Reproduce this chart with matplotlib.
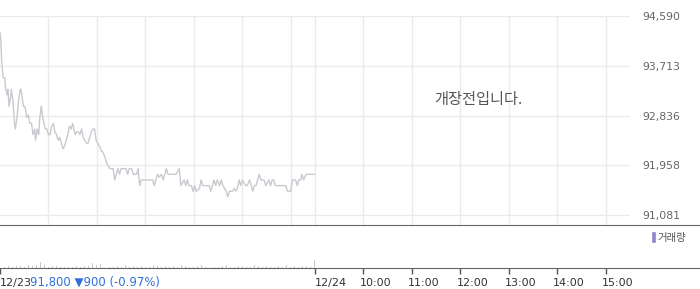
import matplotlib
matplotlib.use("Agg")
import matplotlib.pyplot as plt
from matplotlib.lines import Line2D
from matplotlib.transforms import ScaledTranslation

plt.rcParams.update({"font.family": ["DejaVu Sans", "Noto Sans CJK KR"], "font.size": 8})

# 12/23 session, minutes after 09:00
price_min = [0, 1, 2, 4, 6, 7, 9, 10, 11, 13, 14, 16, 18, 19, 21, 23, 25, 26, 28, 29,
             31, 33, 35, 37, 39, 41, 43, 44, 46, 48, 49, 51, 53, 56, 58, 60, 62, 64, 66, 68,
             70, 72, 74, 76, 78, 80, 82, 84, 86, 88, 90, 93, 95, 97, 99, 101, 103, 105, 107, 109,
             111, 113, 115, 117, 119, 121, 123, 126, 127, 130, 132, 134, 136, 138, 140, 142, 144, 146, 148, 150,
             152, 156, 158, 160, 163, 165, 169, 171, 173, 175, 177, 181, 185, 187, 189, 191, 193, 195, 197, 200,
             202, 204, 206, 208, 210, 214, 218, 222, 224, 228, 230, 232, 234, 237, 239, 241, 243, 247, 249, 251,
             255, 259, 261, 263, 265, 267, 269, 272, 274, 276, 278, 280, 282, 284, 288, 290, 292, 294, 296, 298,
             300, 304, 306, 309, 311, 313, 315, 317, 319, 321, 323, 325, 327, 329, 333, 335, 337, 339, 341, 346,
             350, 354, 356, 358, 360, 362, 364, 366, 368, 370, 372, 374, 376, 379, 383, 387, 389]
price = [94300, 94200, 93800, 93500, 93500, 93300, 93200, 93300, 93000, 93150, 93300, 93100, 92700, 92600, 92800, 93100, 93300, 93300, 93100, 93000,
         93000, 92800, 92850, 92700, 92700, 92500, 92600, 92400, 92600, 92500, 92750, 93000, 92800, 92600, 92600, 92500, 92500, 92650, 92700, 92550,
         92500, 92400, 92450, 92350, 92250, 92300, 92400, 92500, 92650, 92600, 92700, 92500, 92550, 92550, 92500, 92600, 92450, 92400, 92350, 92350,
         92450, 92550, 92600, 92600, 92400, 92350, 92300, 92200, 92200, 92100, 92000, 91950, 91900, 91900, 91900, 91700, 91800, 91900, 91800, 91900,
         91900, 91900, 91800, 91900, 91900, 91800, 91800, 91900, 91600, 91700, 91700, 91700, 91700, 91700, 91700, 91600, 91700, 91800, 91750, 91800,
         91700, 91800, 91900, 91800, 91800, 91800, 91800, 91900, 91600, 91700, 91600, 91700, 91600, 91600, 91500, 91600, 91500, 91550, 91700, 91600,
         91600, 91600, 91500, 91600, 91700, 91600, 91700, 91600, 91700, 91600, 91550, 91500, 91400, 91500, 91500, 91550, 91500, 91550, 91700, 91600,
         91700, 91600, 91600, 91700, 91600, 91500, 91600, 91600, 91700, 91800, 91700, 91700, 91700, 91600, 91700, 91600, 91700, 91700, 91600, 91600,
         91600, 91600, 91500, 91500, 91500, 91700, 91700, 91700, 91600, 91700, 91700, 91800, 91700, 91800, 91800, 91800, 91800]

vol_min = [0, 5, 10, 15, 20, 25, 30, 35, 40, 45, 50, 55, 60, 65, 70, 75, 80, 85, 90, 95,
           100, 105, 110, 115, 120, 125, 130, 135, 140, 145, 150, 155, 160, 165, 170, 175, 180, 185, 190, 195,
           200, 205, 210, 215, 220, 225, 230, 235, 240, 245, 250, 255, 260, 265, 270, 275, 280, 285, 290, 295,
           300, 305, 310, 315, 320, 325, 330, 335, 340, 345, 350, 355, 360, 365, 370, 375, 380, 385, 389]
volume = [3600, 150, 200, 150, 250, 200, 150, 300, 200, 350, 600, 300, 100, 200, 250, 150, 100, 150, 100, 200,
          150, 250, 200, 500, 350, 400, 250, 150, 100, 200, 150, 300, 100, 200, 150, 250, 100, 150, 300, 200,
          150, 200, 100, 250, 150, 300, 200, 150, 100, 250, 300, 150, 200, 100, 150, 200, 300, 150, 100, 200,
          250, 150, 100, 300, 200, 150, 250, 100, 150, 200, 150, 300, 100, 200, 150, 250, 200, 150, 800]

y_ticks = [91081, 91958, 92836, 93713, 94590]
y_labels = ["91,081", "91,958", "92,836", "93,713", "94,590"]
x_ticks = [0, 390, 450, 510, 570, 630, 690, 750]
x_labels = ["12/23", "12/24", "10:00", "11:00", "12:00", "13:00", "14:00", "15:00"]
grid_x = [60, 120, 180, 240, 300, 360, 390, 450, 510, 570, 630, 690, 750]

W, H = 700, 289
fig = plt.figure(figsize=(W / 100, H / 100), dpi=100)

# main price panel
ax = fig.add_axes([0, 1 - 225.3 / H, 630 / W, (225.3 - 16.3) / H])
ax.set_xlim(0, 780)
ax.set_ylim(90899, 94590)
for gx in grid_x:
    ax.axvline(gx, color="#ebebeb", lw=1, zorder=0)
for gy in y_ticks:
    ax.axhline(gy, color="#ebebeb", lw=1, zorder=0)
ax.plot(price_min, price, color="#c9cad0", lw=1, zorder=2)
for s in ax.spines.values():
    s.set_visible(False)
ax.set_xticks([])
ax.yaxis.tick_right()
ax.set_yticks(y_ticks)
ax.set_yticklabels(y_labels)
ax.tick_params(axis="y", length=0, pad=9, labelsize=7.8, labelcolor="#666666")
ax.text(0.759, 0.6, "개장전입니다.", transform=ax.transAxes, ha="center", va="center",
        fontsize=11, color="#555555", family=["Noto Sans CJK KR", "DejaVu Sans"])

# volume panel
vax = fig.add_axes([0, 1 - 268.3 / H, 1.0, (268.3 - 225.3) / H])
vax.set_xlim(0, 780 * W / 630)
vax.set_ylim(0, 4200)
vax.bar(vol_min, volume, width=1.2, color="#c8c8c8", linewidth=0)
vax.spines["left"].set_visible(False)
vax.spines["right"].set_visible(False)
vax.spines["top"].set_color("#666666")
vax.spines["bottom"].set_color("#666666")
vax.set_yticks([])
vax.set_xticks(x_ticks)
vax.set_xticklabels(x_labels)
vax.tick_params(axis="x", length=4, width=1, color="#555555", pad=3, labelsize=8, labelcolor="#333333")
for i, lbl in enumerate(vax.get_xticklabels()):
    lbl.set_horizontalalignment("left")
    dx = 0 if i < 2 else -4
    lbl.set_transform(lbl.get_transform() + ScaledTranslation(dx / 100, 0, fig.dpi_scale_trans))

fig.text(30 / W, 1 - 281.7 / H, "91,800 \u25bc900 (-0.97%)", ha="left", va="center",
         fontsize=8.4, color="#2f6fd6")

# volume legend
fig.add_artist(Line2D([653.5 / W, 653.5 / W], [1 - 241 / H, 1 - 234 / H], color="#9282c8", lw=2.6))
fig.text(657 / W, 1 - 237.5 / H, "거래량", ha="left", va="center", fontsize=7.5, color="#555555",
         family=["Noto Sans CJK KR", "DejaVu Sans"])

fig.savefig("out.png", dpi=100)
